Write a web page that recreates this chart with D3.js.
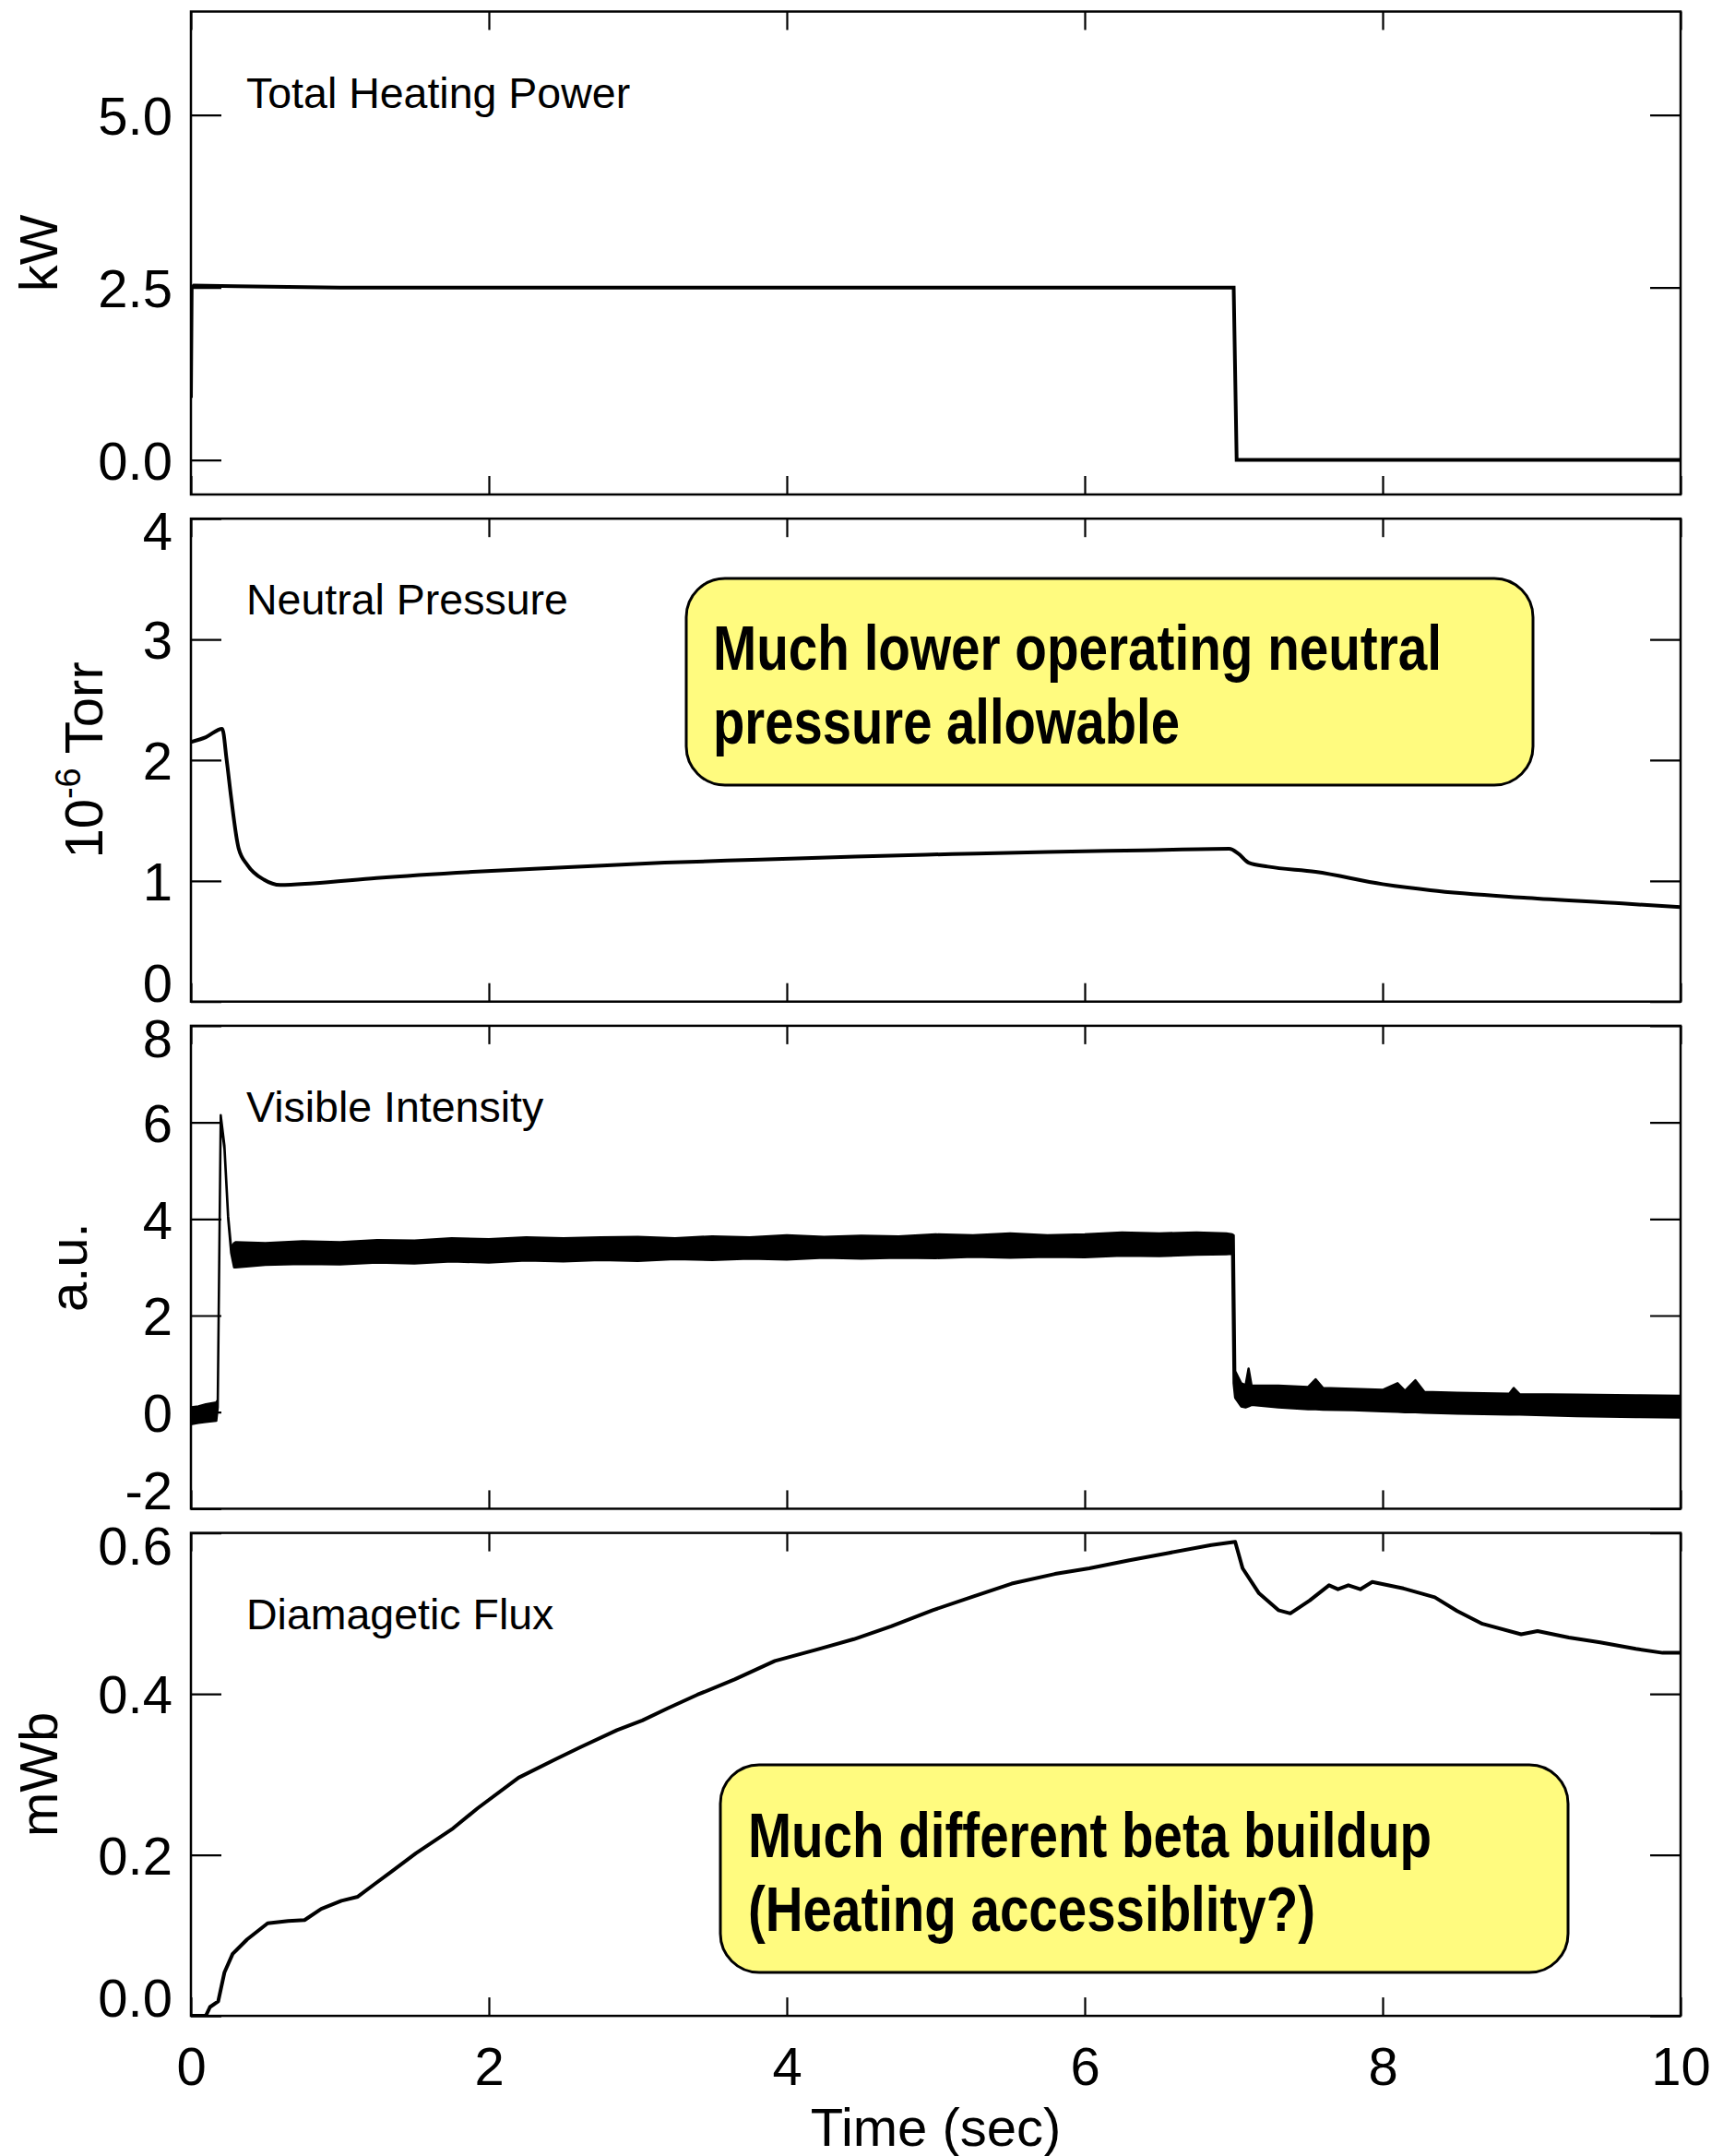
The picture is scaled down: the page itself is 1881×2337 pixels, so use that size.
<!DOCTYPE html>
<html>
<head>
<meta charset="utf-8">
<script src="https://cdn.jsdelivr.net/npm/d3@7"></script>
<style>
  body { margin: 0; background: #fff; }
  svg { display: block; font-family: "Liberation Sans", Arial, Helvetica, sans-serif; }
</style>
</head>
<body>
<svg id="svg" width="1881" height="2337"></svg>
<script>
// ---- data ----
const timeTicks = [0, 2, 4, 6, 8, 10];
const panelNames = ["Total Heating Power", "Neutral Pressure", "Visible Intensity", "Diamagetic Flux"];
const yDomains = [[-0.5, 6.5], [0, 4], [-2, 8], [0, 0.6]];
const yTicks = [[0, 2.5, 5], [0, 1, 2, 3, 4], [-2, 0, 2, 4, 6, 8], [0, 0.2, 0.4, 0.6]];
const yDecimals = [1, 0, 0, 1];

// [time (s), kW]
const heatingPower = [
  [0, 0.9], [0.005, 2.5], [0.02, 2.53], [0.3, 2.52], [1, 2.5], [3, 2.5],
  [5, 2.5], [6.99, 2.5], [7.0, 2.5], [7.02, 0], [8, 0], [10, 0]
];

// [time (s), 1e-6 Torr]
const neutralPressure = [
  [0, 2.15], [0.1, 2.19], [0.21, 2.26], [0.24, 2.0], [0.27, 1.69], [0.32, 1.27],
  [0.38, 1.13], [0.49, 1.01], [0.6, 0.966], [0.82, 0.98], [1.245, 1.024],
  [1.89, 1.075], [2.53, 1.113], [3.18, 1.151], [3.82, 1.176], [4.46, 1.202],
  [5.11, 1.222], [5.75, 1.24], [6.39, 1.253], [6.97, 1.266], [7.03, 1.227],
  [7.10, 1.151], [7.23, 1.118], [7.55, 1.075], [8.0, 0.973], [8.32, 0.922],
  [8.97, 0.859], [9.61, 0.813], [10, 0.782]
];

// noisy signal: [time (s), lower edge, upper edge] in a.u.
const visibleBand = [
  [0.00, -0.25, 0.10], [0.05, -0.22, 0.12], [0.10, -0.20, 0.16], [0.17, -0.18, 0.20],
  [0.18, 0.10, 0.25], [0.20, 6.05, 6.15], [0.225, 5.45, 5.52], [0.25, 4.00, 4.06],
  [0.27, 3.30, 3.40], [0.29, 3.00, 3.50], [0.30, 3.00, 3.52], [0.50, 3.05, 3.50],
  [0.75, 3.07, 3.54], [1.00, 3.06, 3.52], [1.25, 3.10, 3.56], [1.50, 3.08, 3.55],
  [1.75, 3.12, 3.60], [2.00, 3.10, 3.58], [2.25, 3.14, 3.62], [2.50, 3.12, 3.60],
  [2.75, 3.15, 3.62], [3.00, 3.13, 3.63], [3.25, 3.17, 3.60], [3.50, 3.15, 3.64],
  [3.75, 3.18, 3.62], [4.00, 3.16, 3.66], [4.25, 3.20, 3.63], [4.50, 3.18, 3.65],
  [4.75, 3.20, 3.64], [5.00, 3.19, 3.68], [5.25, 3.22, 3.66], [5.50, 3.20, 3.70],
  [5.75, 3.22, 3.66], [6.00, 3.21, 3.68], [6.25, 3.24, 3.72], [6.50, 3.23, 3.70],
  [6.75, 3.26, 3.72], [6.95, 3.27, 3.70], [6.99, 3.28, 3.68], [7.00, 0.60, 3.66],
  [7.01, 0.30, 0.85], [7.05, 0.12, 0.60], [7.08, 0.10, 0.56], [7.10, 0.12, 0.90],
  [7.12, 0.15, 0.55], [7.30, 0.10, 0.55], [7.50, 0.06, 0.52], [7.55, 0.06, 0.68],
  [7.60, 0.05, 0.50], [7.80, 0.04, 0.48], [8.00, 0.02, 0.46], [8.10, 0.01, 0.60],
  [8.15, 0.00, 0.44], [8.22, 0.00, 0.66], [8.28, -0.01, 0.42], [8.50, -0.03, 0.40],
  [8.85, -0.05, 0.38], [8.88, -0.05, 0.50], [8.92, -0.05, 0.37], [9.30, -0.08, 0.36],
  [9.70, -0.10, 0.35], [10.0, -0.11, 0.34]
];

// [time (s), mWb]
const diamagneticFlux = [
  [0, 0], [0.1, 0], [0.128, 0.011], [0.183, 0.018], [0.225, 0.054], [0.28, 0.077],
  [0.377, 0.095], [0.515, 0.115], [0.653, 0.118], [0.763, 0.119], [0.875, 0.133],
  [1.01, 0.143], [1.12, 0.148], [1.235, 0.164], [1.345, 0.179], [1.51, 0.202],
  [1.76, 0.233], [1.925, 0.258], [2.2, 0.296], [2.45, 0.319], [2.616, 0.334],
  [2.86, 0.355], [3.03, 0.367], [3.2, 0.382], [3.4, 0.399], [3.65, 0.418],
  [3.92, 0.441], [4.2, 0.455], [4.45, 0.468], [4.7, 0.484], [4.98, 0.504],
  [5.25, 0.521], [5.51, 0.537], [5.8, 0.549], [6.03, 0.556], [6.3, 0.566],
  [6.56, 0.575], [6.85, 0.585], [7.01, 0.589], [7.06, 0.556], [7.17, 0.525],
  [7.30, 0.504], [7.38, 0.50], [7.51, 0.516], [7.64, 0.535], [7.70, 0.530],
  [7.77, 0.535], [7.85, 0.530], [7.93, 0.539], [8.14, 0.531], [8.35, 0.52],
  [8.5, 0.503], [8.67, 0.487], [8.93, 0.474], [9.04, 0.478], [9.25, 0.470],
  [9.46, 0.464], [9.7, 0.456], [9.88, 0.451], [10, 0.451]
];

const notes = [
  { panel: 1, lines: ["Much lower operating neutral", "pressure allowable"] },
  { panel: 3, lines: ["Much different beta buildup", "(Heating accessiblity?)"] }
];

// ---- layout ----
const svg = d3.select("#svg");
const plotLeft = 207, plotRight = 1822;
const firstTop = 12.5, panelH = 523.5, panelStep = 549.7;
const tickFont = 58;
const traceWidth = 4;

const x = d3.scaleLinear().domain([0, 10]).range([plotLeft, plotRight]);

const panels = panelNames.map((name, i) => {
  const top = firstTop + i * panelStep;
  const y = d3.scaleLinear().domain(yDomains[i]).range([top + panelH, top]);
  return { name, i, top, y };
});

const defs = svg.append("defs");

panels.forEach(p => {
  const g = svg.append("g").attr("class", "panel");
  const dom = yDomains[p.i];

  defs.append("clipPath").attr("id", "clip" + p.i)
    .append("rect")
    .attr("x", plotLeft).attr("y", p.top)
    .attr("width", plotRight - plotLeft).attr("height", panelH);

  // ticks on all four sides, pointing inward
  const left = g.append("g").attr("transform", `translate(${plotLeft},0)`)
    .call(d3.axisLeft(p.y).tickValues(yTicks[p.i]).tickSize(-33).tickPadding(20)
      .tickFormat(d => d.toFixed(yDecimals[p.i])));
  // labels sitting on the frame edge are pushed inside it
  left.selectAll("text")
    .attr("font-size", tickFont).attr("fill", "#000")
    .attr("font-family", "Liberation Sans, Arial, sans-serif")
    .attr("dy", d => d === dom[1] ? "0.58em" : d === dom[0] ? "0em" : "0.36em");

  g.append("g").attr("transform", `translate(${plotRight},0)`)
    .call(d3.axisRight(p.y).tickValues(yTicks[p.i]).tickSize(-33).tickFormat(""));

  g.append("g").attr("transform", `translate(0,${p.top})`)
    .call(d3.axisTop(x).tickValues(timeTicks).tickSize(-20).tickFormat(""));

  const bottom = g.append("g").attr("transform", `translate(0,${p.top + panelH})`)
    .call(d3.axisBottom(x).tickValues(timeTicks).tickSize(-20)
      .tickFormat(p.i === 3 ? d => String(d) : ""));
  bottom.selectAll("text").attr("font-size", tickFont).attr("y", 75).attr("dy", 0)
    .attr("font-family", "Liberation Sans, Arial, sans-serif").attr("fill", "#000");

  g.selectAll(".domain").remove();
  g.selectAll(".tick line").attr("stroke", "#000").attr("stroke-width", 2.2);

  // frame
  g.append("rect")
    .attr("x", plotLeft).attr("y", p.top)
    .attr("width", plotRight - plotLeft).attr("height", panelH)
    .attr("fill", "none").attr("stroke", "#000").attr("stroke-width", 2.5);

  // panel name
  g.append("text")
    .attr("x", 267).attr("y", p.top + 104)
    .attr("font-size", 46.5)
    .text(p.name);

  p.g = g;
});

// ---- traces ----
const line = (y, curve) => d3.line().x(d => x(d[0])).y(d => y(d[1])).curve(curve || d3.curveLinear);

panels[0].g.append("path")
  .datum(heatingPower)
  .attr("clip-path", "url(#clip0)")
  .attr("d", line(panels[0].y))
  .attr("fill", "none").attr("stroke", "#000").attr("stroke-width", traceWidth);

panels[1].g.append("path")
  .datum(neutralPressure)
  .attr("clip-path", "url(#clip1)")
  .attr("d", line(panels[1].y, d3.curveMonotoneX))
  .attr("fill", "none").attr("stroke", "#000").attr("stroke-width", traceWidth);

panels[2].g.append("path")
  .datum(visibleBand)
  .attr("clip-path", "url(#clip2)")
  .attr("d", d3.area().x(d => x(d[0])).y0(d => panels[2].y(d[1])).y1(d => panels[2].y(d[2])))
  .attr("fill", "#000").attr("stroke", "#000").attr("stroke-width", 2.5)
  .attr("stroke-linejoin", "round");

panels[3].g.append("path")
  .datum(diamagneticFlux)
  .attr("clip-path", "url(#clip3)")
  .attr("d", line(panels[3].y))
  .attr("fill", "none").attr("stroke", "#000").attr("stroke-width", traceWidth)
  .attr("stroke-linejoin", "round");

// ---- axis titles ----
function yTitle(p, baseX) {
  return svg.append("text")
    .attr("transform", `translate(${baseX},${p.top + panelH / 2}) rotate(-90)`)
    .attr("text-anchor", "middle")
    .attr("font-size", tickFont);
}
yTitle(panels[0], 62).text("kW");
const torr = yTitle(panels[1], 111);
torr.append("tspan").text("10");
torr.append("tspan").attr("font-size", 38).attr("dy", -24).text("-6");
torr.append("tspan").attr("dy", 24).text(" Torr");
yTitle(panels[2], 94).text("a.u.");
yTitle(panels[3], 62).text("mWb");

svg.append("text")
  .attr("x", (plotLeft + plotRight) / 2).attr("y", 2326)
  .attr("text-anchor", "middle")
  .attr("font-size", tickFont)
  .text("Time (sec)");

// ---- yellow callouts ----
const boxSpec = [
  { x: 744, y: 627, w: 918, h: 224, tx: 773, base: 726, widths: [790, 506] },
  { x: 781, y: 1913, w: 919, h: 225, tx: 811, base: 2013, widths: [741, 615] }
];

notes.forEach((n, k) => {
  const b = boxSpec[k];
  svg.append("rect")
    .attr("x", b.x).attr("y", b.y).attr("width", b.w).attr("height", b.h)
    .attr("rx", 42).attr("ry", 42)
    .attr("fill", "#fffb7f").attr("stroke", "#000").attr("stroke-width", 3);
  n.lines.forEach((t, j) => {
    svg.append("text")
      .attr("x", b.tx).attr("y", b.base + j * 80)
      .attr("font-family", "'Liberation Sans Narrow', 'Arial Narrow', sans-serif")
      .attr("font-weight", "bold")
      .attr("font-size", 69)
      .attr("textLength", b.widths[j])
      .attr("lengthAdjust", "spacingAndGlyphs")
      .text(t);
  });
});
</script>
</body>
</html>
